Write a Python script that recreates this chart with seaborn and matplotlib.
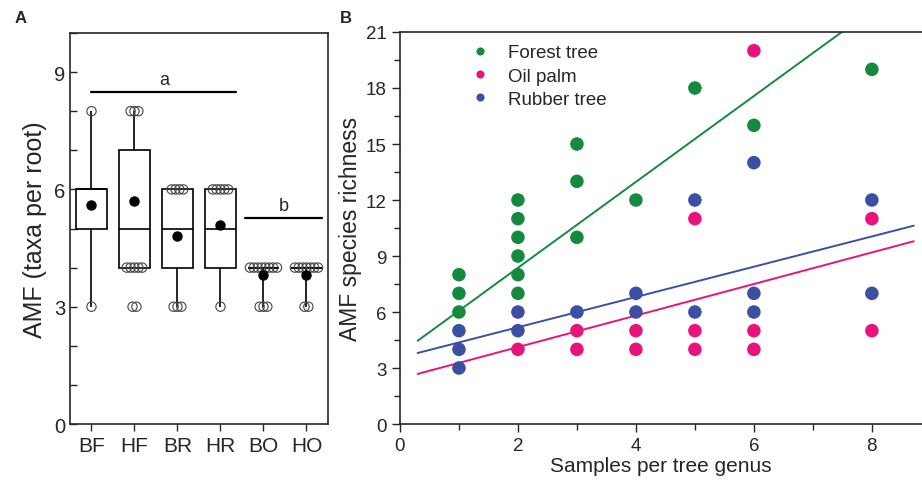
import numpy as np
import pandas as pd
import matplotlib
matplotlib.use('Agg')
import matplotlib.pyplot as plt
from matplotlib.ticker import MultipleLocator
import seaborn as sns

sns.set_style('ticks')
plt.rcParams['font.family'] = ['Liberation Sans', 'DejaVu Sans']

# ---- Panel A: AMF taxa per root for each site ----
sites = ['BF', 'HF', 'BR', 'HR', 'BO', 'HO']
bf_taxa = [3, 5, 5, 5, 6, 6, 6, 6, 6, 8]
hf_taxa = [4] * 6 + [5] * 6 + [7] * 4 + [8] * 4
br_taxa = [3, 3, 4, 4, 5, 5, 6, 6, 6, 6]
hr_taxa = [3] + [4] * 5 + [5] * 5 + [6] * 9
bo_taxa = [3, 3] + [4] * 8
ho_taxa = [3, 3] + [4] * 8

# samples shown as open circles
bf_shown = [8, 3]
hf_shown = [8, 8, 8, 4, 4, 4, 4, 4, 3, 3]
br_shown = [6, 6, 6, 6, 3, 3, 3]
hr_shown = [6, 6, 6, 6, 6, 3]
bo_shown = [4] * 8 + [3, 3, 3]
ho_shown = [4] * 7 + [3, 3]

# significance groups
sig_letters = ['a', 'b']
sig_level = [8.5, 5.27]
sig_start = [0.0, 3.58]
sig_end = [3.37, 5.37]

# ---- Panel B: species richness vs samples per genus ----
forest_n = [1, 1, 1, 2, 2, 2, 2, 2, 2, 3, 3, 3, 4, 5, 6, 8]
forest_rich = [8, 7, 6, 12, 11, 10, 9, 8, 7, 15, 13, 10, 12, 18, 16, 19]
palm_n = [2, 3, 3, 4, 4, 5, 5, 5, 6, 6, 6, 8, 8]
palm_rich = [4, 5, 4, 5, 4, 11, 5, 4, 20, 5, 4, 11, 5]
rubber_n = [1, 1, 1, 2, 2, 3, 4, 4, 5, 5, 6, 6, 6, 8, 8]
rubber_rich = [5, 4, 3, 6, 5, 6, 7, 6, 12, 6, 14, 7, 6, 12, 7]

groups = ['Forest tree', 'Oil palm', 'Rubber tree']
fit_intercept = [3.77, 2.43, 3.56]
fit_slope = [2.30, 0.845, 0.811]
fit_range = [0.3, 8.71]
colors = {'Forest tree': '#148a3f', 'Oil palm': '#e8147c', 'Rubber tree': '#3b4fa3'}

fig = plt.figure(figsize=(9.22, 4.81), dpi=100)
axA = fig.add_axes([0.0759, 0.1164, 0.2798, 0.8129])
axB = fig.add_axes([0.4338, 0.1164, 0.5662, 0.8150])

# ---------- A ----------
taxa = [bf_taxa, hf_taxa, br_taxa, hr_taxa, bo_taxa, ho_taxa]
df_a = pd.DataFrame({'site': np.repeat(sites, [len(t) for t in taxa]),
                     'taxa': np.concatenate(taxa)})
sns.boxplot(data=df_a, x='site', y='taxa', order=sites, ax=axA,
            whis=(0, 100), width=0.7, color='white', linecolor='black',
            linewidth=1.2, showcaps=False, showfliers=False, showmeans=True,
            meanprops=dict(marker='o', markerfacecolor='black',
                           markeredgecolor='black', markersize=6.5, zorder=5))

shown = [bf_shown, hf_shown, br_shown, hr_shown, bo_shown, ho_shown]
xs, ys = [], []
for i, vals in enumerate(shown):
    vals = np.array(vals)
    for v in np.unique(vals):
        n = (vals == v).sum()
        off = (np.arange(n) - (n - 1) / 2) * 0.09
        xs.extend(i + off)
        ys.extend([v] * n)
sns.scatterplot(x=xs, y=ys, ax=axA, marker='o', s=45, facecolor='none',
                edgecolor='#444444', linewidth=0.8, zorder=4)

for letter, lvl, x0, x1 in zip(sig_letters, sig_level, sig_start, sig_end):
    axA.plot([x0, x1], [lvl, lvl], color='black', lw=1.6)
    axA.text((x0 + x1) / 2, lvl + 0.1, letter, ha='center', va='bottom',
             fontsize=13)

axA.set_xlim(-0.5, 5.5)
axA.set_ylim(0, 10)
axA.yaxis.set_major_locator(MultipleLocator(3))
axA.yaxis.set_minor_locator(MultipleLocator(1))
axA.tick_params(axis='y', which='both', direction='in', length=5,
                labelsize=14.5, width=1)
axA.tick_params(axis='x', direction='out', length=5, labelsize=15, width=1)
axA.set_xlabel('')
axA.set_ylabel('AMF (taxa per root)', fontsize=18, labelpad=5)
for sp in axA.spines.values():
    sp.set_visible(True)
    sp.set_linewidth(1.2)

# ---------- B ----------
df_b = pd.DataFrame({
    'samples': forest_n + palm_n + rubber_n,
    'richness': forest_rich + palm_rich + rubber_rich,
    'tree': ['Forest tree'] * len(forest_n) + ['Oil palm'] * len(palm_n)
            + ['Rubber tree'] * len(rubber_n)})

xfit = np.array(fit_range)
for g, b0, b1 in zip(groups, fit_intercept, fit_slope):
    sns.lineplot(x=xfit, y=b0 + b1 * xfit, ax=axB, color=colors[g], lw=1.4,
                 zorder=2)

sns.scatterplot(data=df_b, x='samples', y='richness', hue='tree',
                hue_order=groups, palette=colors, s=95, edgecolor='none',
                ax=axB, zorder=3)

axB.set_xlim(0, 8.85)
axB.set_ylim(0, 21)
axB.xaxis.set_major_locator(MultipleLocator(2))
axB.xaxis.set_minor_locator(MultipleLocator(1))
axB.yaxis.set_major_locator(MultipleLocator(3))
axB.yaxis.set_minor_locator(MultipleLocator(1.5))
axB.tick_params(which='major', direction='out', length=6, width=1,
                labelsize=13.5)
axB.tick_params(which='minor', direction='out', length=4, width=1)
axB.set_xlabel('Samples per tree genus', fontsize=15, labelpad=1)
axB.set_ylabel('AMF species richness', fontsize=16.5, labelpad=3)
axB.spines['right'].set_visible(False)
for sp in ['left', 'bottom', 'top']:
    axB.spines[sp].set_linewidth(1.2)

leg = axB.legend(loc='upper left', bbox_to_anchor=(0.085, 1.012), frameon=False,
                 fontsize=13.5, markerscale=0.6, handletextpad=0.5,
                 labelspacing=0.33, title=None)

fig.text(0.016, 0.962, 'A', fontsize=12, fontweight='bold', va='center')
fig.text(0.369, 0.962, 'B', fontsize=12, fontweight='bold', va='center')

fig.savefig('out.png', dpi=100)
